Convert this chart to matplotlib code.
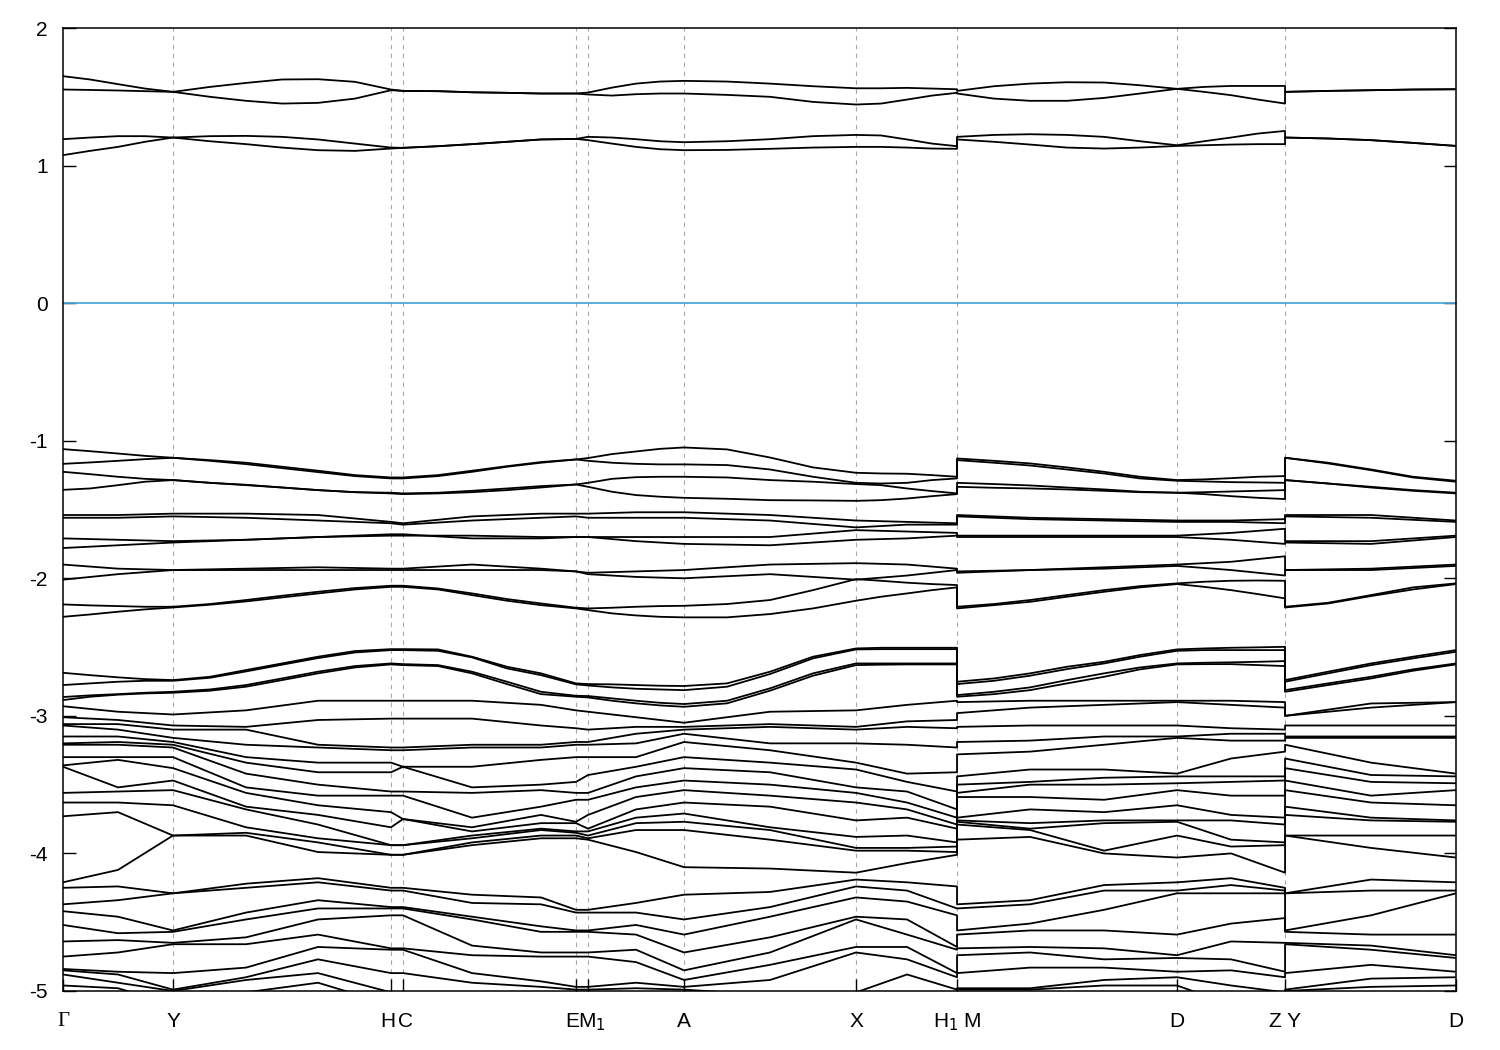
import numpy as np
import matplotlib.pyplot as plt
from matplotlib.transforms import ScaledTranslation

plt.rcParams['font.family'] = ['Liberation Sans', 'DejaVu Sans']
plt.rcParams['axes.unicode_minus'] = False

# coarse k-path samples (path length, arbitrary units)
k = [0.000, 0.055, 0.110, 0.183, 0.255, 0.328, 0.340, 0.409, 0.478, 0.513,
     0.525, 0.573, 0.621, 0.707, 0.793, 0.844, 0.894, 0.894, 0.967, 1.041,
     1.114, 1.168, 1.222, 1.222, 1.308, 1.393]
# finer k-path samples for the well separated bands
kf = [0.000, 0.027, 0.055, 0.082, 0.110, 0.147, 0.183, 0.219, 0.255, 0.292,
      0.328, 0.340, 0.375, 0.409, 0.444, 0.478, 0.513, 0.525, 0.549, 0.573,
      0.597, 0.621, 0.664, 0.707, 0.750, 0.793, 0.818, 0.844, 0.869, 0.894,
      0.894, 0.931, 0.967, 1.004, 1.041, 1.077, 1.114, 1.141, 1.168, 1.195,
      1.222, 1.222, 1.265, 1.308, 1.350, 1.393]

kpt_pos = [0.000, 0.110, 0.328, 0.340, 0.513, 0.525, 0.621, 0.793, 0.894, 1.114, 1.222, 1.393]
kpt_lab = ['Γ', 'Y', 'H', 'C', 'E', 'M$_1$', 'A', 'X', 'H$_1$ M', 'D', 'Z Y', 'D']
lab_shift = [0, 0, -2, 2, -3, 3, 0, 0, 0, 0, 0, 0]   # points

# conduction bands (eV), fine grid
cb1 = [1.076, 1.107, 1.136, 1.173, 1.204, 1.177, 1.156, 1.131, 1.112, 1.107, 1.124, 1.129,
       1.141, 1.156, 1.173, 1.190, 1.194, 1.185, 1.160, 1.136, 1.119, 1.112, 1.114, 1.122,
       1.131, 1.136, 1.136, 1.131, 1.124, 1.122, 1.190, 1.173, 1.153, 1.131, 1.124, 1.131,
       1.143, 1.148, 1.153, 1.156, 1.156, 1.204, 1.197, 1.185, 1.165, 1.143]
cb2 = [1.192, 1.204, 1.214, 1.214, 1.204, 1.214, 1.216, 1.209, 1.190, 1.160, 1.131, 1.129,
       1.141, 1.156, 1.173, 1.190, 1.194, 1.209, 1.204, 1.192, 1.177, 1.170, 1.177, 1.192,
       1.214, 1.223, 1.219, 1.190, 1.160, 1.141, 1.209, 1.223, 1.228, 1.223, 1.209, 1.177,
       1.148, 1.177, 1.204, 1.233, 1.252, 1.204, 1.197, 1.185, 1.165, 1.143]
cb3 = [1.553, 1.550, 1.546, 1.541, 1.536, 1.500, 1.471, 1.451, 1.456, 1.487, 1.548, 1.543,
       1.541, 1.533, 1.529, 1.524, 1.524, 1.517, 1.509, 1.519, 1.524, 1.524, 1.514, 1.500,
       1.463, 1.444, 1.451, 1.480, 1.509, 1.529, 1.524, 1.487, 1.471, 1.471, 1.492, 1.524,
       1.558, 1.536, 1.512, 1.480, 1.451, 1.536, 1.543, 1.548, 1.553, 1.555]
cb4 = [1.650, 1.626, 1.592, 1.560, 1.536, 1.572, 1.601, 1.626, 1.628, 1.609, 1.553, 1.543,
       1.541, 1.533, 1.529, 1.524, 1.524, 1.531, 1.567, 1.596, 1.611, 1.616, 1.611, 1.596,
       1.577, 1.562, 1.562, 1.565, 1.560, 1.555, 1.543, 1.577, 1.596, 1.606, 1.604, 1.584,
       1.558, 1.572, 1.579, 1.579, 1.579, 1.536, 1.543, 1.548, 1.553, 1.555]

# upper valence bands, fine grid
vb1 = [-1.061, -1.076, -1.093, -1.110, -1.124, -1.141, -1.160, -1.189, -1.218, -1.250, -1.267, -1.267,
       -1.250, -1.218, -1.185, -1.155, -1.136, -1.126, -1.097, -1.078, -1.059, -1.049, -1.063, -1.122,
       -1.194, -1.233, -1.238, -1.240, -1.250, -1.262, -1.129, -1.146, -1.165, -1.194, -1.226, -1.262,
       -1.286, -1.281, -1.272, -1.262, -1.257, -1.124, -1.160, -1.209, -1.262, -1.291]
vb2 = [-1.168, -1.158, -1.146, -1.134, -1.124, -1.146, -1.170, -1.199, -1.228, -1.257, -1.274, -1.274,
       -1.257, -1.226, -1.189, -1.160, -1.136, -1.146, -1.160, -1.168, -1.172, -1.172, -1.177, -1.209,
       -1.262, -1.306, -1.311, -1.306, -1.286, -1.274, -1.141, -1.160, -1.180, -1.209, -1.238, -1.274,
       -1.291, -1.296, -1.301, -1.303, -1.306, -1.124, -1.165, -1.214, -1.267, -1.298]
vb3 = [-1.226, -1.243, -1.262, -1.277, -1.286, -1.306, -1.320, -1.340, -1.359, -1.374, -1.378, -1.383,
       -1.378, -1.364, -1.347, -1.330, -1.318, -1.306, -1.277, -1.265, -1.262, -1.262, -1.267, -1.286,
       -1.298, -1.315, -1.323, -1.347, -1.366, -1.383, -1.306, -1.315, -1.325, -1.340, -1.354, -1.371,
       -1.378, -1.374, -1.369, -1.364, -1.359, -1.286, -1.311, -1.335, -1.359, -1.378]
vb4 = [-1.357, -1.347, -1.323, -1.298, -1.286, -1.306, -1.323, -1.340, -1.359, -1.374, -1.383, -1.388,
       -1.383, -1.374, -1.359, -1.340, -1.318, -1.335, -1.371, -1.395, -1.407, -1.415, -1.422, -1.432,
       -1.434, -1.437, -1.432, -1.420, -1.403, -1.388, -1.335, -1.342, -1.347, -1.354, -1.364, -1.374,
       -1.378, -1.388, -1.403, -1.415, -1.424, -1.286, -1.311, -1.340, -1.364, -1.383]
vb11 = [-2.190, -2.197, -2.202, -2.207, -2.207, -2.187, -2.158, -2.127, -2.098, -2.071, -2.054, -2.054,
        -2.074, -2.110, -2.151, -2.183, -2.214, -2.219, -2.214, -2.207, -2.202, -2.200, -2.187, -2.158,
        -2.086, -2.006, -2.018, -2.032, -2.042, -2.049, -2.207, -2.187, -2.158, -2.122, -2.086, -2.057,
        -2.037, -2.025, -2.018, -2.016, -2.018, -2.207, -2.178, -2.122, -2.066, -2.037]
vb12 = [-2.280, -2.263, -2.243, -2.226, -2.212, -2.192, -2.168, -2.139, -2.110, -2.081, -2.062, -2.062,
        -2.081, -2.122, -2.163, -2.195, -2.219, -2.231, -2.255, -2.270, -2.280, -2.284, -2.284, -2.260,
        -2.219, -2.163, -2.134, -2.110, -2.086, -2.066, -2.219, -2.195, -2.171, -2.134, -2.098, -2.066,
        -2.042, -2.062, -2.086, -2.115, -2.146, -2.212, -2.183, -2.129, -2.081, -2.042]

# -2.5 .. -2.95 eV group, fine grid
db1 = [-2.687, -2.704, -2.720, -2.733, -2.740, -2.716, -2.667, -2.619, -2.570, -2.529, -2.515, -2.515,
       -2.517, -2.570, -2.643, -2.691, -2.764, -2.769, -2.771, -2.776, -2.781, -2.783, -2.764, -2.679,
       -2.570, -2.510, -2.505, -2.505, -2.505, -2.505, -2.752, -2.728, -2.691, -2.643, -2.607, -2.558,
       -2.517, -2.510, -2.505, -2.502, -2.498, -2.740, -2.679, -2.619, -2.570, -2.522]
db2 = [-2.776, -2.764, -2.752, -2.745, -2.745, -2.723, -2.677, -2.628, -2.580, -2.539, -2.522, -2.522,
       -2.527, -2.575, -2.655, -2.704, -2.771, -2.779, -2.793, -2.803, -2.808, -2.813, -2.788, -2.696,
       -2.582, -2.517, -2.515, -2.515, -2.515, -2.515, -2.769, -2.745, -2.708, -2.660, -2.619, -2.570,
       -2.527, -2.522, -2.522, -2.522, -2.522, -2.752, -2.691, -2.631, -2.582, -2.534]
db3 = [-2.863, -2.851, -2.842, -2.832, -2.825, -2.808, -2.776, -2.728, -2.679, -2.638, -2.619, -2.624,
       -2.631, -2.679, -2.752, -2.825, -2.854, -2.856, -2.873, -2.890, -2.905, -2.914, -2.890, -2.800,
       -2.691, -2.619, -2.619, -2.619, -2.619, -2.619, -2.849, -2.825, -2.793, -2.740, -2.691, -2.648,
       -2.619, -2.614, -2.611, -2.607, -2.602, -2.813, -2.764, -2.716, -2.662, -2.619]
db4 = [-2.885, -2.861, -2.846, -2.837, -2.832, -2.817, -2.788, -2.740, -2.691, -2.648, -2.626, -2.631,
       -2.638, -2.691, -2.769, -2.842, -2.861, -2.866, -2.890, -2.909, -2.924, -2.934, -2.909, -2.817,
       -2.708, -2.631, -2.628, -2.626, -2.626, -2.626, -2.861, -2.842, -2.813, -2.764, -2.716, -2.662,
       -2.626, -2.624, -2.624, -2.631, -2.638, -2.825, -2.776, -2.728, -2.672, -2.626]

# flatter valence bands, coarse grid
vb5 = [-1.54, -1.54, -1.53, -1.53, -1.54, -1.59, -1.60, -1.55, -1.53, -1.53, -1.53, -1.52, -1.52,
       -1.54, -1.58, -1.59, -1.60, -1.54, -1.56, -1.57, -1.58, -1.58, -1.57, -1.54, -1.54, -1.58]
vb6 = [-1.56, -1.56, -1.55, -1.56, -1.58, -1.60, -1.61, -1.58, -1.56, -1.55, -1.56, -1.56, -1.56,
       -1.58, -1.63, -1.61, -1.61, -1.55, -1.57, -1.58, -1.59, -1.59, -1.60, -1.55, -1.56, -1.59]
vb7 = [-1.71, -1.72, -1.73, -1.72, -1.70, -1.68, -1.68, -1.71, -1.71, -1.70, -1.70, -1.70, -1.70,
       -1.70, -1.65, -1.66, -1.67, -1.69, -1.69, -1.69, -1.69, -1.67, -1.64, -1.73, -1.73, -1.69]
vb8 = [-1.78, -1.76, -1.74, -1.72, -1.70, -1.69, -1.69, -1.69, -1.70, -1.70, -1.70, -1.73, -1.75,
       -1.76, -1.72, -1.71, -1.69, -1.70, -1.70, -1.70, -1.70, -1.72, -1.75, -1.74, -1.75, -1.70]
vb9 = [-1.90, -1.93, -1.94, -1.93, -1.92, -1.93, -1.93, -1.90, -1.93, -1.95, -1.96, -1.95, -1.94,
       -1.90, -1.89, -1.90, -1.93, -1.95, -1.94, -1.92, -1.90, -1.88, -1.84, -1.94, -1.93, -1.90]
vb10 = [-2.01, -1.97, -1.94, -1.94, -1.94, -1.94, -1.94, -1.94, -1.94, -1.95, -1.97, -1.99, -2.00,
        -1.97, -2.01, -1.98, -1.94, -1.96, -1.94, -1.93, -1.91, -1.94, -1.98, -1.94, -1.94, -1.91]
db5 = [-2.93, -2.97, -2.99, -2.96, -2.89, -2.89, -2.89, -2.89, -2.92, -2.96, -2.97, -3.01, -3.05,
       -2.97, -2.96, -2.92, -2.89, -2.90, -2.89, -2.89, -2.89, -2.89, -2.90, -3.00, -2.91, -2.90]

# deeper bands, energies sorted at each coarse k sample (values below -5 lie off the chart)
col_G = [-3.01, -3.06, -3.07, -3.15, -3.20, -3.21, -3.30, -3.36, -3.37, -3.56, -3.63, -3.73, -4.21,
         -4.25, -4.37, -4.42, -4.52, -4.64, -4.75, -4.84, -4.85, -4.88, -4.96, -5.01, -5.10, -5.20, -5.30]
col_1 = [-3.03, -3.06, -3.10, -3.15, -3.19, -3.21, -3.30, -3.32, -3.52, -3.55, -3.63, -3.70, -4.12,
         -4.24, -4.34, -4.46, -4.58, -4.63, -4.72, -4.86, -4.88, -4.94, -4.98, -5.10, -5.20, -5.30, -5.40]
col_Y = [-3.07, -3.10, -3.16, -3.19, -3.21, -3.23, -3.30, -3.38, -3.47, -3.54, -3.65, -3.87, -3.87,
         -4.29, -4.29, -4.56, -4.57, -4.65, -4.66, -4.87, -4.99, -5.00, -5.10, -5.20, -5.30, -5.40, -5.50]
col_3 = [-3.08, -3.10, -3.21, -3.30, -3.34, -3.42, -3.52, -3.56, -3.66, -3.68, -3.81, -3.85, -3.87,
         -4.22, -4.25, -4.43, -4.48, -4.61, -4.66, -4.83, -4.90, -4.92, -5.01, -5.10, -5.20, -5.30, -5.40]
col_4 = [-3.03, -3.21, -3.23, -3.34, -3.41, -3.50, -3.58, -3.65, -3.72, -3.79, -3.89, -3.92, -3.99,
         -4.18, -4.21, -4.34, -4.40, -4.48, -4.59, -4.68, -4.77, -4.87, -4.94, -5.10, -5.20, -5.30, -5.40]
col_H = [-3.02, -3.23, -3.25, -3.34, -3.41, -3.55, -3.58, -3.70, -3.81, -3.94, -3.94, -4.01, -4.01,
         -4.25, -4.27, -4.39, -4.40, -4.45, -4.69, -4.70, -4.87, -5.01, -5.10, -5.20, -5.30, -5.40, -5.50]
col_C = [-3.02, -3.23, -3.25, -3.37, -3.37, -3.55, -3.58, -3.75, -3.75, -3.94, -3.94, -4.01, -4.01,
         -4.25, -4.27, -4.39, -4.40, -4.45, -4.69, -4.70, -4.87, -5.01, -5.10, -5.20, -5.30, -5.40, -5.50]
col_7 = [-3.02, -3.21, -3.23, -3.37, -3.52, -3.56, -3.74, -3.81, -3.84, -3.87, -3.89, -3.92, -3.94,
         -4.30, -4.36, -4.46, -4.48, -4.67, -4.74, -4.87, -4.94, -5.03, -5.10, -5.20, -5.30, -5.40, -5.50]
col_8 = [-3.07, -3.21, -3.23, -3.32, -3.50, -3.54, -3.66, -3.72, -3.78, -3.82, -3.83, -3.87, -3.89,
         -4.32, -4.37, -4.53, -4.57, -4.72, -4.75, -4.93, -4.97, -5.03, -5.10, -5.20, -5.30, -5.40, -5.50]
col_E = [-3.09, -3.19, -3.21, -3.30, -3.48, -3.56, -3.61, -3.77, -3.78, -3.84, -3.85, -3.87, -3.89,
         -4.41, -4.43, -4.56, -4.57, -4.72, -4.75, -4.97, -4.99, -5.05, -5.10, -5.20, -5.30, -5.40, -5.50]
col_M1 = [-3.10, -3.19, -3.21, -3.30, -3.43, -3.56, -3.61, -3.72, -3.82, -3.84, -3.87, -3.89, -3.90,
          -4.41, -4.43, -4.56, -4.57, -4.72, -4.75, -4.97, -4.99, -5.05, -5.10, -5.20, -5.30, -5.40, -5.50]
col_11 = [-3.08, -3.13, -3.20, -3.30, -3.37, -3.44, -3.52, -3.59, -3.68, -3.74, -3.78, -3.83, -3.99,
          -4.36, -4.43, -4.52, -4.59, -4.70, -4.79, -4.94, -4.98, -5.05, -5.10, -5.20, -5.30, -5.40, -5.50]
col_A = [-3.08, -3.10, -3.13, -3.19, -3.30, -3.38, -3.47, -3.54, -3.63, -3.71, -3.77, -3.83, -4.10,
         -4.30, -4.48, -4.59, -4.72, -4.85, -4.92, -4.97, -4.99, -5.05, -5.10, -5.20, -5.30, -5.40, -5.50]
col_13 = [-3.06, -3.08, -3.20, -3.25, -3.34, -3.41, -3.50, -3.58, -3.66, -3.81, -3.83, -3.90, -4.11,
          -4.28, -4.39, -4.46, -4.61, -4.72, -4.81, -4.92, -5.03, -5.10, -5.20, -5.30, -5.40, -5.50, -5.60]
col_X = [-3.08, -3.10, -3.20, -3.34, -3.39, -3.52, -3.56, -3.63, -3.76, -3.88, -3.96, -3.98, -4.14,
         -4.19, -4.24, -4.32, -4.46, -4.48, -4.68, -4.72, -5.01, -5.10, -5.20, -5.30, -5.40, -5.50, -5.60]
col_15 = [-3.04, -3.08, -3.21, -3.42, -3.48, -3.55, -3.63, -3.68, -3.74, -3.87, -3.96, -3.98, -4.07,
          -4.21, -4.27, -4.35, -4.48, -4.59, -4.68, -4.77, -4.88, -5.01, -5.10, -5.20, -5.30, -5.40, -5.50]
col_H1 = [-3.03, -3.09, -3.23, -3.41, -3.55, -3.68, -3.74, -3.79, -3.82, -3.92, -3.95, -3.99, -4.01,
          -4.24, -4.40, -4.45, -4.68, -4.70, -4.87, -4.90, -4.99, -5.05, -5.10, -5.20, -5.30, -5.40, -5.50]
col_M = [-2.98, -3.08, -3.19, -3.28, -3.44, -3.50, -3.56, -3.59, -3.74, -3.76, -3.77, -3.79, -3.90,
         -4.37, -4.40, -4.56, -4.59, -4.69, -4.74, -4.87, -4.98, -4.99, -5.10, -5.20, -5.30, -5.40, -5.50]
col_18 = [-2.94, -3.07, -3.18, -3.26, -3.39, -3.48, -3.50, -3.59, -3.68, -3.78, -3.82, -3.83, -3.88,
          -4.34, -4.37, -4.51, -4.56, -4.68, -4.72, -4.83, -4.98, -4.99, -5.10, -5.20, -5.30, -5.40, -5.50]
col_19 = [-2.92, -3.07, -3.15, -3.21, -3.39, -3.45, -3.50, -3.61, -3.70, -3.76, -3.78, -3.98, -4.00,
          -4.23, -4.27, -4.41, -4.56, -4.69, -4.77, -4.83, -4.92, -4.96, -5.10, -5.20, -5.30, -5.40, -5.50]
col_D = [-2.90, -3.07, -3.15, -3.16, -3.42, -3.44, -3.49, -3.54, -3.65, -3.76, -3.77, -3.87, -4.03,
         -4.21, -4.27, -4.29, -4.59, -4.74, -4.76, -4.86, -4.90, -4.96, -5.10, -5.20, -5.30, -5.40, -5.50]
col_21 = [-2.92, -3.09, -3.13, -3.18, -3.31, -3.44, -3.48, -3.58, -3.72, -3.76, -3.90, -3.95, -4.00,
          -4.18, -4.23, -4.29, -4.51, -4.64, -4.77, -4.85, -4.96, -5.10, -5.20, -5.30, -5.40, -5.50, -5.60]
col_Z = [-2.94, -3.10, -3.13, -3.18, -3.26, -3.44, -3.47, -3.58, -3.74, -3.79, -3.92, -3.94, -4.14,
         -4.25, -4.27, -4.29, -4.47, -4.65, -4.86, -4.90, -5.01, -5.10, -5.20, -5.30, -5.40, -5.50, -5.60]
col_Y2 = [-3.00, -3.07, -3.15, -3.16, -3.21, -3.31, -3.38, -3.47, -3.54, -3.66, -3.72, -3.87, -3.87,
          -4.29, -4.29, -4.56, -4.57, -4.65, -4.66, -4.87, -4.99, -5.00, -5.10, -5.20, -5.30, -5.40, -5.50]
col_24 = [-2.94, -3.07, -3.15, -3.16, -3.34, -3.43, -3.48, -3.58, -3.63, -3.74, -3.76, -3.87, -3.96,
          -4.19, -4.27, -4.45, -4.59, -4.67, -4.70, -4.81, -4.91, -4.97, -5.10, -5.20, -5.30, -5.40, -5.50]
col_D2 = [-2.90, -3.07, -3.15, -3.16, -3.42, -3.44, -3.49, -3.54, -3.65, -3.76, -3.77, -3.87, -4.03,
          -4.21, -4.27, -4.29, -4.59, -4.74, -4.76, -4.86, -4.90, -4.96, -5.10, -5.20, -5.30, -5.40, -5.50]

deep = np.column_stack([col_G, col_1, col_Y, col_3, col_4, col_H, col_C, col_7, col_8,
                        col_E, col_M1, col_11, col_A, col_13, col_X, col_15, col_H1, col_M,
                        col_18, col_19, col_D, col_21, col_Z, col_Y2, col_24, col_D2])

fine_bands = [cb1, cb2, cb3, cb4, vb1, vb2, vb3, vb4, vb11, vb12, db1, db2, db3, db4]
coarse_bands = [vb5, vb6, vb7, vb8, vb9, vb10, db5] + list(deep)

fig = plt.figure(figsize=(15, 10.5), dpi=100)
ax = fig.add_axes([0.042, 0.0562, 0.9287, 0.9171])

for p in kpt_pos[1:-1]:
    ax.axvline(p, color='#a8a8a8', lw=0.8, ls=(0, (4, 4)), zorder=1)
ax.axhline(0, color='#4da6dd', lw=1.3, zorder=2)

for b in fine_bands:
    ax.plot(kf, b, color='black', lw=1.3, zorder=3)
for b in coarse_bands:
    ax.plot(k, b, color='black', lw=1.3, zorder=3)

ax.set_xlim(k[0], k[-1])
ax.set_ylim(-5, 2)
ax.set_yticks(range(-5, 3))
ax.set_xticks(kpt_pos)
ax.set_xticklabels(kpt_lab)
ax.get_xticklabels()[0].set_fontfamily('Liberation Serif')
ax.get_xticklabels()[0].set_fontsize(17)

ax.tick_params(direction='in', length=9, width=1, labelsize=15, right=True)
ax.tick_params(axis='y', pad=11)
ax.tick_params(axis='x', pad=15)
for s in ax.spines.values():
    s.set_linewidth(1.1)

for lbl, dx in zip(ax.get_xticklabels(), lab_shift):
    lbl.set_transform(lbl.get_transform() + ScaledTranslation(dx / 72, 0, fig.dpi_scale_trans))

fig.savefig('out.png', dpi=100)
